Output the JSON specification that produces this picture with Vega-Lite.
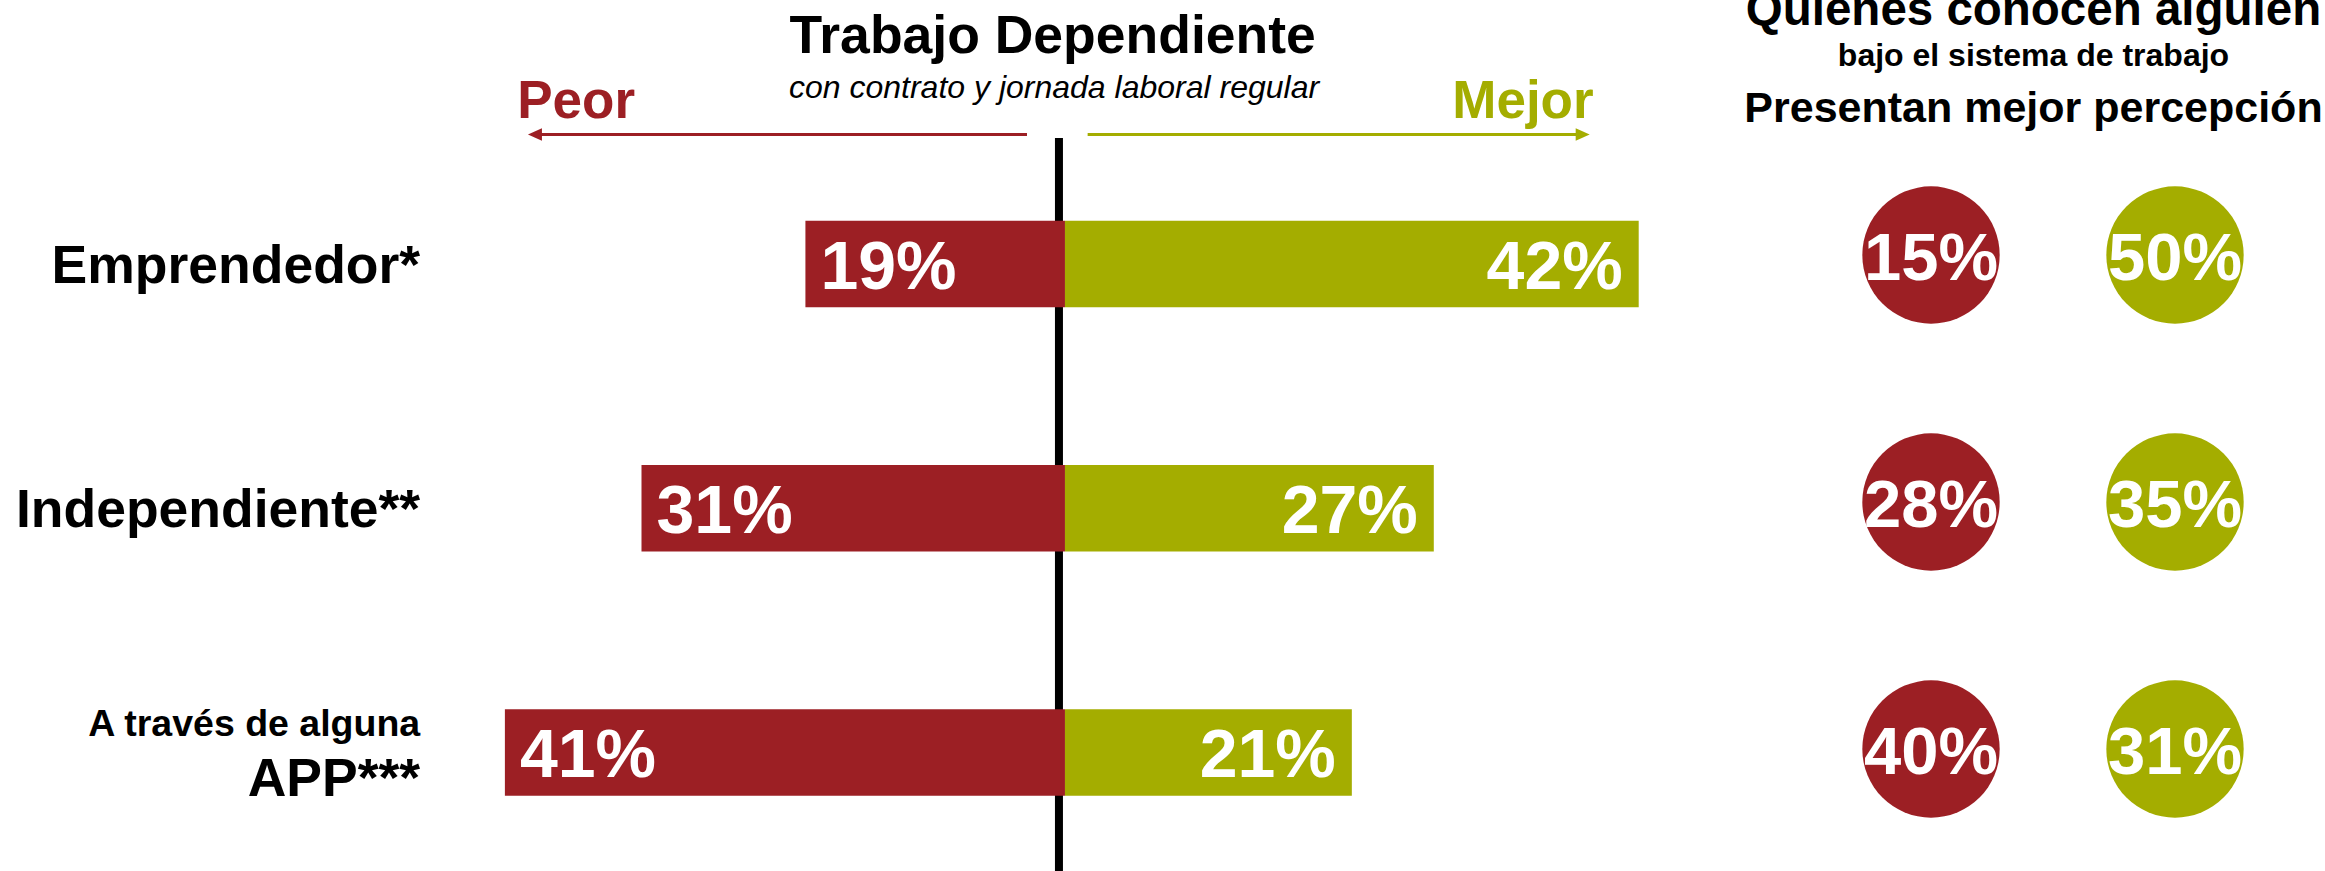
{
  "$schema": "https://vega.github.io/schema/vega-lite/v6.json",
  "width": 2325,
  "height": 871,
  "autosize": {"type": "fit", "contains": "padding"},
  "padding": 0,
  "background": "#ffffff",
  "config": {
    "view": {"stroke": null},
    "font": "Liberation Sans",
    "axis": {"disable": true},
    "legend": {"disable": true}
  },
  "datasets": {
    "barras": [
      {"categoria": "Emprendedor*", "tipo": "Peor", "valor": -19, "etiqueta": "19%"},
      {"categoria": "Emprendedor*", "tipo": "Mejor", "valor": 42, "etiqueta": "42%"},
      {"categoria": "Independiente**", "tipo": "Peor", "valor": -31, "etiqueta": "31%"},
      {"categoria": "Independiente**", "tipo": "Mejor", "valor": 27, "etiqueta": "27%"},
      {"categoria": "A través de alguna APP***", "tipo": "Peor", "valor": -41, "etiqueta": "41%"},
      {"categoria": "A través de alguna APP***", "tipo": "Mejor", "valor": 21, "etiqueta": "21%"}
    ],
    "circulos": [
      {"categoria": "Emprendedor*", "tipo": "Peor", "valor": 15, "etiqueta": "15%"},
      {"categoria": "Emprendedor*", "tipo": "Mejor", "valor": 50, "etiqueta": "50%"},
      {"categoria": "Independiente**", "tipo": "Peor", "valor": 28, "etiqueta": "28%"},
      {"categoria": "Independiente**", "tipo": "Mejor", "valor": 35, "etiqueta": "35%"},
      {"categoria": "A través de alguna APP***", "tipo": "Peor", "valor": 40, "etiqueta": "40%"},
      {"categoria": "A través de alguna APP***", "tipo": "Mejor", "valor": 31, "etiqueta": "31%"}
    ],
    "etiquetas": [
      {"categoria": "Emprendedor*", "texto": "Emprendedor*"},
      {"categoria": "Independiente**", "texto": "Independiente**"},
      {"categoria": "A través de alguna APP***", "texto": "APP***"},
      {"categoria": "A través de alguna APP***", "texto": "A través de alguna"}
    ]
  },
  "layer": [
    {
      "layer": [
        {
          "data": {"values": [{"texto": "Trabajo Dependiente", "sub": "con contrato y jornada laboral regular", "peor": "Peor", "mejor": "Mejor", "h1": "Quienes conocen alguien", "h2": "bajo el sistema de trabajo", "h3": "Presentan mejor percepción"}]},
          "layer": [
            {
              "mark": {"type": "rule", "color": "#000000", "strokeWidth": 8},
              "encoding": {
                "x": {"datum": -0.44, "type": "quantitative", "scale": {"domain": [-77.96, 92.24], "nice": false, "zero": false}},
                "y": {"datum": 138, "type": "quantitative", "scale": {"domain": [0, 871], "range": [0, 871], "nice": false, "zero": false}},
                "y2": {"datum": 871}
              }
            },
            {
              "mark": {"type": "rule", "color": "#9C1F24", "strokeWidth": 3},
              "encoding": {
                "x": {"datum": -2.78, "type": "quantitative"},
                "x2": {"datum": -38.5},
                "y": {"datum": 134.5, "type": "quantitative"}
              }
            },
            {
              "mark": {"type": "rule", "color": "#A4AD00", "strokeWidth": 3},
              "encoding": {
                "x": {"datum": 1.66, "type": "quantitative"},
                "x2": {"datum": 37.6},
                "y": {"datum": 134.5, "type": "quantitative"}
              }
            },
            {
              "mark": {"type": "point", "shape": "M-1,0L1,-0.9L1,0.9Z", "filled": true, "color": "#9C1F24", "size": 196, "opacity": 1, "strokeWidth": 0},
              "encoding": {
                "x": {"datum": -38.8, "type": "quantitative"},
                "y": {"datum": 134.5, "type": "quantitative"}
              }
            },
            {
              "mark": {"type": "point", "shape": "M1,0L-1,-0.9L-1,0.9Z", "filled": true, "color": "#A4AD00", "size": 196, "opacity": 1, "strokeWidth": 0},
              "encoding": {
                "x": {"datum": 37.9, "type": "quantitative"},
                "y": {"datum": 134.5, "type": "quantitative"}
              }
            },
            {
              "mark": {"type": "text", "fontSize": 53.5, "fontWeight": "bold", "color": "#000000", "align": "center", "baseline": "alphabetic"},
              "encoding": {
                "x": {"datum": -0.9, "type": "quantitative"},
                "y": {"datum": 53, "type": "quantitative"},
                "text": {"field": "texto"}
              }
            },
            {
              "mark": {"type": "text", "fontSize": 32, "fontStyle": "italic", "color": "#000000", "align": "center", "baseline": "alphabetic"},
              "encoding": {
                "x": {"datum": -0.8, "type": "quantitative"},
                "y": {"datum": 98, "type": "quantitative"},
                "text": {"field": "sub"}
              }
            },
            {
              "mark": {"type": "text", "fontSize": 53, "fontWeight": "bold", "color": "#9C1F24", "align": "left", "baseline": "alphabetic"},
              "encoding": {
                "x": {"datum": -40.1, "type": "quantitative"},
                "y": {"datum": 118, "type": "quantitative"},
                "text": {"field": "peor"}
              }
            },
            {
              "mark": {"type": "text", "fontSize": 53, "fontWeight": "bold", "color": "#A4AD00", "align": "right", "baseline": "alphabetic"},
              "encoding": {
                "x": {"datum": 38.7, "type": "quantitative"},
                "y": {"datum": 118, "type": "quantitative"},
                "text": {"field": "mejor"}
              }
            },
            {
              "mark": {"type": "text", "fontSize": 47.5, "fontWeight": "bold", "color": "#000000", "align": "center", "baseline": "alphabetic", "clip": true},
              "encoding": {
                "x": {"datum": 70.9, "type": "quantitative"},
                "y": {"datum": 25, "type": "quantitative"},
                "text": {"field": "h1"}
              }
            },
            {
              "mark": {"type": "text", "fontSize": 32, "fontWeight": "bold", "color": "#000000", "align": "center", "baseline": "alphabetic"},
              "encoding": {
                "x": {"datum": 70.9, "type": "quantitative"},
                "y": {"datum": 66, "type": "quantitative"},
                "text": {"field": "h2"}
              }
            },
            {
              "mark": {"type": "text", "fontSize": 43, "fontWeight": "bold", "color": "#000000", "align": "center", "baseline": "alphabetic"},
              "encoding": {
                "x": {"datum": 70.9, "type": "quantitative"},
                "y": {"datum": 122, "type": "quantitative"},
                "text": {"field": "h3"}
              }
            }
          ]
        },
        {
          "layer": [
            {
              "data": {"name": "barras"},
              "mark": {"type": "bar", "opacity": 1},
              "encoding": {
                "x": {"field": "valor", "type": "quantitative", "stack": null, "scale": {"domain": [-77.96, 92.24], "nice": false, "zero": false}},
                "y": {"field": "categoria", "type": "nominal", "sort": null, "scale": {"type": "band", "domain": ["Emprendedor*", "Independiente**", "A través de alguna APP***"], "range": [141.9, 874.6], "paddingInner": 0.646, "paddingOuter": 0.323}},
                "color": {"field": "tipo", "type": "nominal", "scale": {"domain": ["Peor", "Mejor"], "range": ["#9C1F24", "#A4AD00"]}, "legend": null}
              }
            },
            {
              "data": {"name": "barras"},
              "transform": [{"filter": "datum.tipo === 'Peor'"}],
              "mark": {"type": "text", "fontSize": 68, "fontWeight": "bold", "color": "#ffffff", "align": "left", "baseline": "alphabetic", "dx": 15, "dy": 25},
              "encoding": {
                "x": {"field": "valor", "type": "quantitative"},
                "y": {"field": "categoria", "type": "nominal", "sort": null},
                "text": {"field": "etiqueta"}
              }
            },
            {
              "data": {"name": "barras"},
              "transform": [{"filter": "datum.tipo === 'Mejor'"}],
              "mark": {"type": "text", "fontSize": 68, "fontWeight": "bold", "color": "#ffffff", "align": "right", "baseline": "alphabetic", "dx": -16, "dy": 25},
              "encoding": {
                "x": {"field": "valor", "type": "quantitative"},
                "y": {"field": "categoria", "type": "nominal", "sort": null},
                "text": {"field": "etiqueta"}
              }
            },
            {
              "data": {"name": "etiquetas"},
              "transform": [{"filter": "datum.categoria !== 'A través de alguna APP***'"}],
              "mark": {"type": "text", "fontSize": 53.5, "fontWeight": "bold", "color": "#000000", "align": "right", "baseline": "alphabetic", "dy": 19},
              "encoding": {
                "x": {"datum": -47.2, "type": "quantitative"},
                "y": {"field": "categoria", "type": "nominal", "sort": null},
                "text": {"field": "texto"}
              }
            },
            {
              "data": {"name": "etiquetas"},
              "transform": [{"filter": "datum.texto === 'APP***'"}],
              "mark": {"type": "text", "fontSize": 53.5, "fontWeight": "bold", "color": "#000000", "align": "right", "baseline": "alphabetic", "dy": 43.5},
              "encoding": {
                "x": {"datum": -47.2, "type": "quantitative"},
                "y": {"field": "categoria", "type": "nominal", "sort": null},
                "text": {"field": "texto"}
              }
            },
            {
              "data": {"name": "etiquetas"},
              "transform": [{"filter": "datum.texto === 'A través de alguna'"}],
              "mark": {"type": "text", "fontSize": 37.5, "fontWeight": "bold", "color": "#000000", "align": "right", "baseline": "alphabetic", "dy": -16},
              "encoding": {
                "x": {"datum": -47.2, "type": "quantitative"},
                "y": {"field": "categoria", "type": "nominal", "sort": null},
                "text": {"field": "texto"}
              }
            }
          ]
        }
      ],
      "resolve": {"scale": {"y": "independent"}}
    },
    {
      "data": {"name": "circulos"},
      "layer": [
        {
          "mark": {"type": "circle", "size": 18870, "opacity": 1},
          "encoding": {
            "x": {"field": "tipo", "type": "nominal", "sort": null, "scale": {"type": "point", "domain": ["Peor", "Mejor"], "range": [1931, 2175], "padding": 0}},
            "y": {"field": "categoria", "type": "nominal", "sort": null, "scale": {"type": "point", "domain": ["Emprendedor*", "Independiente**", "A través de alguna APP***"], "range": [255, 749], "padding": 0}},
            "color": {"field": "tipo", "type": "nominal", "legend": null}
          }
        },
        {
          "mark": {"type": "text", "fontSize": 67, "fontWeight": "bold", "color": "#ffffff", "align": "center", "baseline": "alphabetic", "dy": 25},
          "encoding": {
            "x": {"field": "tipo", "type": "nominal", "sort": null},
            "y": {"field": "categoria", "type": "nominal", "sort": null},
            "text": {"field": "etiqueta"}
          }
        }
      ]
    }
  ],
  "resolve": {"scale": {"x": "independent", "y": "independent"}}
}
